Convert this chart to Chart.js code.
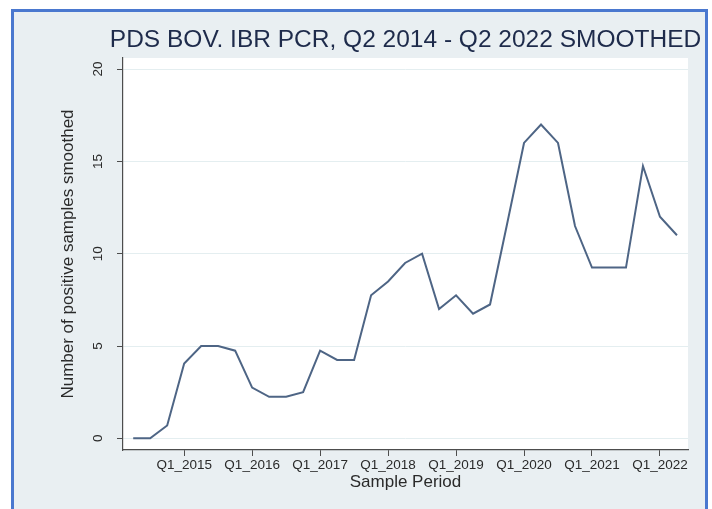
<!DOCTYPE html>
<html>
<head>
<meta charset="utf-8">
<script src="https://cdn.jsdelivr.net/npm/chart.js@4/dist/chart.umd.min.js"></script>
<style>
  html, body { margin: 0; padding: 0; background: #ffffff; }
  canvas { display: block; }
</style>
</head>
<body>
<canvas id="chart" width="712" height="509"></canvas>
<script>
// Quarterly periods, Q2 2014 - Q2 2022
const periods = [
  'Q2_2014', 'Q3_2014', 'Q4_2014',
  'Q1_2015', 'Q2_2015', 'Q3_2015', 'Q4_2015',
  'Q1_2016', 'Q2_2016', 'Q3_2016', 'Q4_2016',
  'Q1_2017', 'Q2_2017', 'Q3_2017', 'Q4_2017',
  'Q1_2018', 'Q2_2018', 'Q3_2018', 'Q4_2018',
  'Q1_2019', 'Q2_2019', 'Q3_2019', 'Q4_2019',
  'Q1_2020', 'Q2_2020', 'Q3_2020', 'Q4_2020',
  'Q1_2021', 'Q2_2021', 'Q3_2021', 'Q4_2021',
  'Q1_2022', 'Q2_2022'
];

// Number of positive samples (smoothed)
const positives = [
  0, 0, 0.7,
  4.05, 5.0, 5.0, 4.75,
  2.75, 2.25, 2.25, 2.5,
  4.75, 4.25, 4.25, 7.75,
  8.5, 9.5, 10.0, 7.0,
  7.75, 6.75, 7.25, 11.6,
  16.0, 17.0, 16.0, 11.5,
  9.25, 9.25, 9.25, 14.75,
  12.0, 11.0
];

// Axis ticks
const xTickLabels = ['Q1_2015', 'Q1_2016', 'Q1_2017', 'Q1_2018', 'Q1_2019', 'Q1_2020', 'Q1_2021', 'Q1_2022'];
const yTicks = [0, 5, 10, 15, 20];

const chartTitle = 'PDS BOV. IBR PCR, Q2 2014 - Q2 2022 SMOOTHED';

const FONT = "'Liberation Sans', Arial, Helvetica, sans-serif";
const AXIS_COLOR = '#4d4d4d';
const TEXT_COLOR = '#2a2a2a';

// Stata-like frame: blue border, pale background, white plot region
const backdrop = {
  id: 'backdrop',
  beforeDraw(chart) {
    const { ctx, chartArea: a } = chart;
    ctx.save();
    ctx.fillStyle = '#ffffff';
    ctx.fillRect(0, 0, chart.width, chart.height);
    ctx.fillStyle = '#4a78cf';
    ctx.fillRect(11, 9, 697, chart.height);
    ctx.fillStyle = '#e9eff2';
    ctx.fillRect(14, 12, 691, chart.height);
    ctx.fillStyle = '#ffffff';
    ctx.fillRect(a.left, a.top, a.right - a.left, a.bottom - a.top);
    ctx.restore();
  },
  // title centred over the plot region, allowed to run wider than it
  afterDraw(chart) {
    const { ctx, chartArea: a } = chart;
    ctx.save();
    ctx.fillStyle = '#1e2b4b';
    ctx.font = '24.5px ' + FONT;
    ctx.textAlign = 'center';
    ctx.textBaseline = 'middle';
    ctx.fillText(chartTitle, (a.left + a.right) / 2, 40);
    ctx.restore();
  }
};

const tickIndex = xTickLabels.map(l => periods.indexOf(l));

new Chart(document.getElementById('chart'), {
  type: 'line',
  data: {
    datasets: [{
      data: positives.map((v, i) => ({ x: i, y: v })),
      borderColor: '#4e6585',
      borderWidth: 2,
      pointRadius: 0,
      tension: 0,
      fill: false
    }]
  },
  options: {
    responsive: false,
    animation: false,
    layout: { padding: { top: 58, left: 50, right: 24, bottom: 16 } },
    plugins: {
      legend: { display: false },
      tooltip: { enabled: false },
      title: { display: false }
    },
    scales: {
      x: {
        type: 'linear',
        min: -0.6,
        max: 32.65,
        afterBuildTicks: s => { s.ticks = tickIndex.map(v => ({ value: v })); },
        afterFit: s => { s.height = 43; },
        grid: { display: true, drawOnChartArea: false, drawTicks: true, tickLength: 6, tickColor: AXIS_COLOR },
        border: { display: true, color: AXIS_COLOR, width: 1.2 },
        ticks: {
          autoSkip: false,
          maxRotation: 0,
          padding: 1,
          color: TEXT_COLOR,
          font: { family: FONT, size: 13.5 },
          callback: v => periods[v]
        },
        title: {
          display: true,
          text: 'Sample Period',
          color: TEXT_COLOR,
          font: { family: FONT, size: 17 },
          padding: { top: 0, bottom: 0 }
        }
      },
      y: {
        min: -0.63,
        max: 20.6,
        afterBuildTicks: s => { s.ticks = yTicks.map(v => ({ value: v })); },
        afterFit: s => { s.width = 73; },
        grid: { color: '#e4eef0', lineWidth: 1, drawTicks: true, tickLength: 6, tickColor: AXIS_COLOR },
        border: { display: true, color: AXIS_COLOR, width: 1.2 },
        ticks: {
          minRotation: 90,
          maxRotation: 90,
          crossAlign: 'center',
          padding: 11,
          color: TEXT_COLOR,
          font: { family: FONT, size: 13.5 }
        },
        title: {
          display: true,
          text: 'Number of positive samples smoothed',
          color: TEXT_COLOR,
          font: { family: FONT, size: 17 },
          padding: { top: 7.8, bottom: 0 }
        }
      }
    }
  },
  plugins: [backdrop]
});
</script>
</body>
</html>
